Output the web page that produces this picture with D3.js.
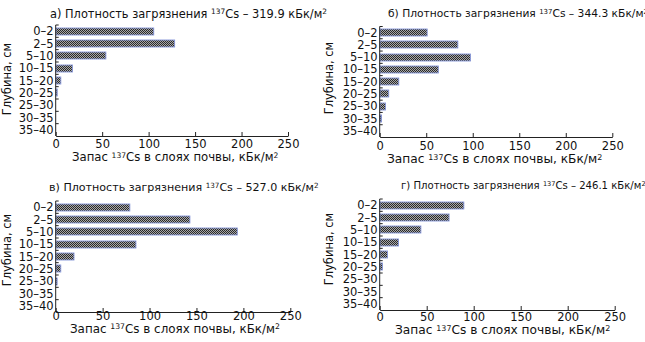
<!DOCTYPE html>
<html><head><meta charset="utf-8">
<script src="https://cdn.jsdelivr.net/npm/d3@7"></script>
<style>
body{margin:0;background:#fff;}
</style></head>
<body><svg id="c" width="645" height="342"></svg>
<script>
const depths = ["0–2","2–5","5–10","10–15","15–20","20–25","25–30","30–35","35–40"];
const panelLetters = ["а)","б)","в)","г)"];
const densities = ["319.9","344.3","527.0","246.1"];
const valuesA = [105.5, 128, 54, 18, 5.5, 1.6, 0, 0, 0];
const valuesB = [51, 84, 97.5, 63, 20.5, 9.7, 6.2, 2, 0];
const valuesC = [79, 143, 193.5, 85.5, 19.5, 5.4, 1.5, 0, 0];
const valuesD = [89.5, 73.8, 43.8, 20, 8.3, 3, 0, 0, 0];
const xTicks = [0, 50, 100, 150, 200, 250];
const seriesList = [valuesA, valuesB, valuesC, valuesD];

const FONT = "'DejaVu Sans'";
const FS = "11.5px";
const layouts = [
  {x0:55.7, x1:288,   yTop:25,  yBot:136, titleX:50,  titleFS:11.4, titleY:17.5, tickY:148, xTitleX:72,  xTitleFS:11.7, xTitleY:161,   yTitleX:11,  yTitleY:79},
  {x0:379.7,x1:612.3, yTop:26.5,yBot:137, titleX:388, titleFS:10.7, titleY:17,   tickY:150, xTitleX:387, xTitleFS:12.2, xTitleY:163,   yTitleX:333, yTitleY:78},
  {x0:55.7, x1:290.3, yTop:201, yBot:312, titleX:49,  titleFS:11.1, titleY:191,  tickY:320, xTitleX:70,  xTitleFS:11.9, xTitleY:332.5, yTitleX:11,  yTitleY:250},
  {x0:379.7,x1:614.7, yTop:199, yBot:310, titleX:401, titleFS:10.1, titleY:189,  tickY:321, xTitleX:395, xTitleFS:12.2, xTitleY:334,   yTitleX:333, yTitleY:249}
];

const svg = d3.select("#c").style("font-family", FONT);
const defs = svg.append("defs");
const pat = defs.append("pattern").attr("id","hatch").attr("patternUnits","userSpaceOnUse")
  .attr("width",2).attr("height",2);
pat.append("rect").attr("width",2).attr("height",2).attr("fill","#a8a8a8");
pat.append("rect").attr("x",0).attr("y",0).attr("width",1).attr("height",1).attr("fill","#2a2a2a");
pat.append("rect").attr("x",1).attr("y",1).attr("width",1).attr("height",1).attr("fill","#2a2a2a");

function txt(sel){ return sel.style("font-family", FONT).attr("fill","#111"); }
function supText(sel, parts){
  sel.append("tspan").text(parts[0]);
  sel.append("tspan").attr("font-size","0.65em").attr("dy","-0.42em").text(parts[1]);
  sel.append("tspan").attr("dy","0.273em").text(parts[2]);
  sel.append("tspan").attr("font-size","0.65em").attr("dy","-0.42em").text(parts[3]);
}

seriesList.forEach((vals, i) => {
  const L = layouts[i];
  const g = svg.append("g");
  const x = d3.scaleLinear().domain([0,250]).range([L.x0, L.x1]);
  const y = d3.scaleBand().domain(depths).range([L.yTop, L.yBot]).paddingInner(0.42).paddingOuter(0.21);
  const yb = d3.scaleLinear().domain([0, depths.length]).range([L.yTop, L.yBot]);

  g.selectAll("rect.bar").data(vals.map((v,k)=>({v, d:depths[k]})).filter(o=>o.v>0))
    .enter().append("rect")
    .attr("x", Math.round(x(0))).attr("y", o=>Math.round(y(o.d)))
    .attr("width", o=>x(o.v)-Math.round(x(0))).attr("height", Math.round(y.bandwidth()))
    .attr("fill","url(#hatch)").attr("stroke","#8494d8").attr("stroke-width",0.9);

  const xa = d3.axisBottom(x).tickValues(xTicks).tickSize(-4).tickSizeOuter(0).tickFormat(d3.format("d"));
  const xg = g.append("g").attr("transform",`translate(0,${L.yBot})`).call(xa);
  xg.attr("font-family", null);
  xg.select(".domain").attr("stroke","#222");
  xg.selectAll(".tick line").attr("stroke","#222");
  txt(xg.selectAll(".tick text").attr("y", L.tickY - L.yBot).attr("dy",0).attr("font-size",FS));

  g.append("line").attr("x1",L.x0).attr("x2",L.x0).attr("y1",L.yTop).attr("y2",L.yBot).attr("stroke","#222");
  g.selectAll("line.yt").data(d3.range(0, depths.length)).enter().append("line")
    .attr("x1",L.x0).attr("x2",L.x0+3).attr("y1",k=>yb(k)).attr("y2",k=>yb(k)).attr("stroke","#222");
  txt(g.selectAll("text.yl").data(depths).enter().append("text")
    .attr("x", L.x0-2).attr("y", d=>y(d)+y.bandwidth()/2).attr("dy","0.35em")
    .attr("text-anchor","end").attr("font-size",FS).text(d=>d));

  const t = txt(g.append("text").attr("x",L.titleX).attr("y",L.titleY).attr("font-size",L.titleFS+"px"));
  supText(t, [panelLetters[i]+" Плотность загрязнения ", "137", "Cs – "+densities[i]+" кБк/м", "2"]);

  const xt = txt(g.append("text").attr("x",L.xTitleX).attr("y",L.xTitleY).attr("font-size",L.xTitleFS+"px"));
  supText(xt, ["Запас ", "137", "Cs в слоях почвы, кБк/м", "2"]);

  txt(g.append("text").attr("transform",`translate(${L.yTitleX},${L.yTitleY}) rotate(-90)`)
    .attr("text-anchor","middle").attr("font-size",FS).text("Глубина, см"));
});
</script></body></html>
